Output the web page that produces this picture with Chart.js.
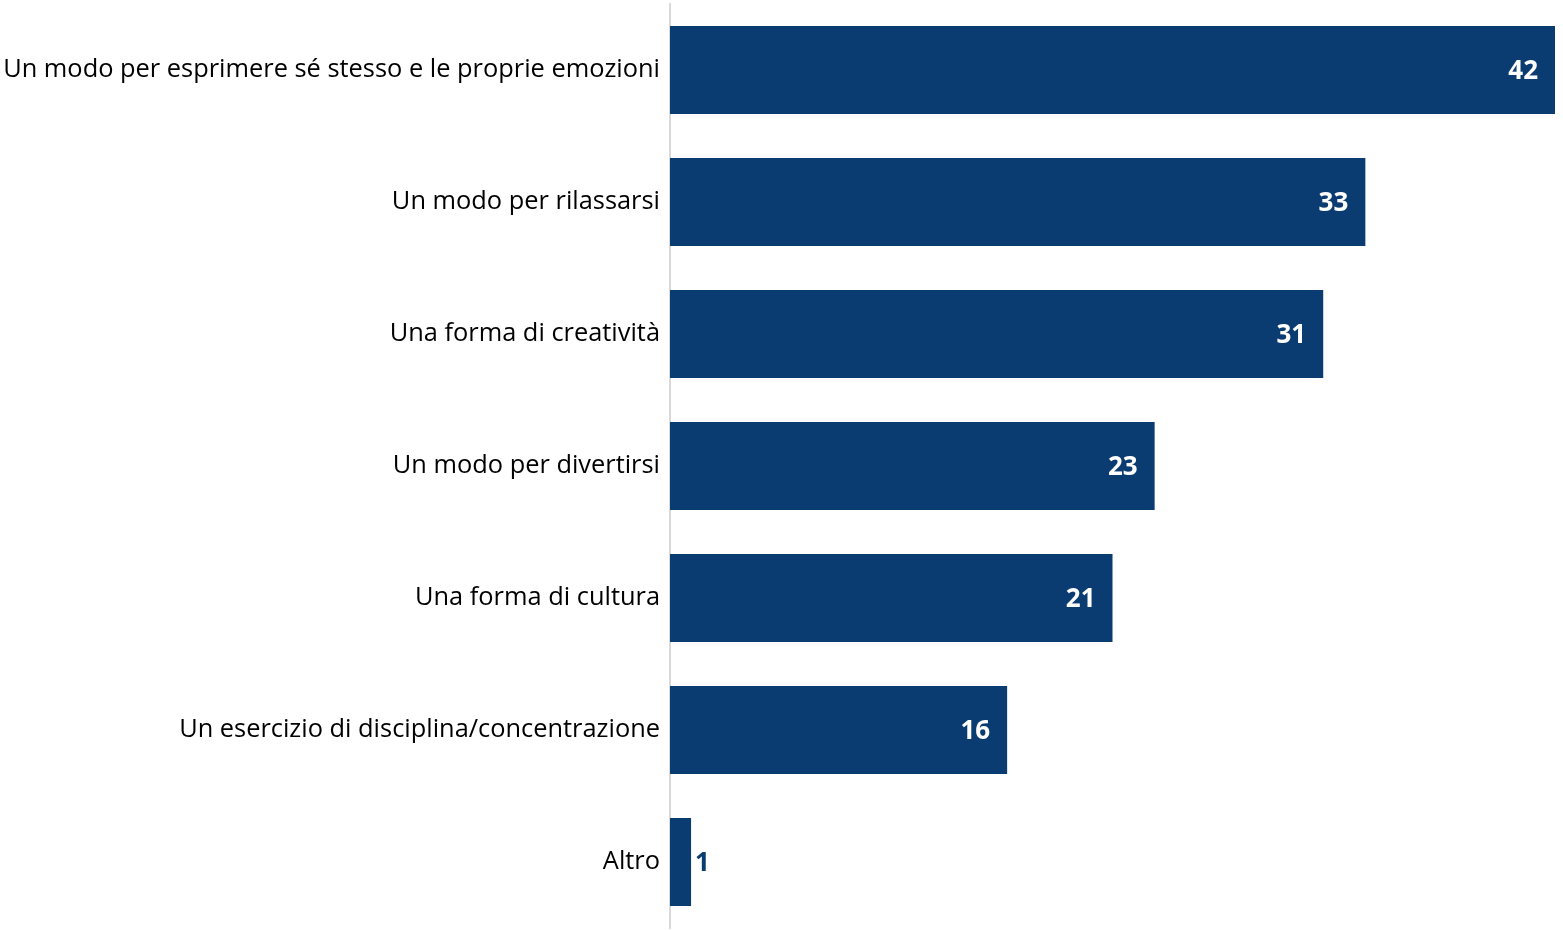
<!DOCTYPE html>
<html>
<head>
<meta charset="utf-8">
<script src="https://cdn.jsdelivr.net/npm/chart.js@4/dist/chart.umd.min.js"></script>
<style>
  body { margin: 0; background: #fff; }
  #wrap { width: 1563px; height: 930px; }
</style>
</head>
<body>
<div id="wrap"><canvas id="chart" width="1563" height="930"></canvas></div>
<script>
// Risposte (%)
const categories = [
  'Un modo per esprimere sé stesso e le proprie emozioni',
  'Un modo per rilassarsi',
  'Una forma di creatività',
  'Un modo per divertirsi',
  'Una forma di cultura',
  'Un esercizio di disciplina/concentrazione',
  'Altro'
];
const values = [42, 33, 31, 23, 21, 16, 1];

const navy = '#0b3c71';
const labelFont = '"Open Sans", "Noto Sans", sans-serif';

// value labels: white inside the bar end, navy outside when the bar is too short
const valueLabels = {
  id: 'valueLabels',
  afterDatasetsDraw(chart) {
    const ctx = chart.ctx;
    const meta = chart.getDatasetMeta(0);
    ctx.save();
    ctx.font = 'bold 26px ' + labelFont;
    ctx.textBaseline = 'middle';
    meta.data.forEach((bar, i) => {
      const txt = String(values[i]);
      const w = ctx.measureText(txt).width;
      const barW = bar.x - bar.base;
      if (barW > w + 30) {
        ctx.fillStyle = '#ffffff';
        ctx.textAlign = 'right';
        ctx.fillText(txt, bar.x - 17, bar.y + 2);
      } else {
        ctx.fillStyle = navy;
        ctx.textAlign = 'left';
        ctx.fillText(txt, bar.x + 4, bar.y + 2);
      }
    });
    ctx.restore();
  }
};

new Chart(document.getElementById('chart'), {
  type: 'bar',
  data: {
    labels: categories,
    datasets: [{
      data: values,
      backgroundColor: navy,
      borderWidth: 0,
      categoryPercentage: 1,
      barPercentage: 0.667
    }]
  },
  options: {
    indexAxis: 'y',
    responsive: false,
    animation: false,
    layout: { padding: { top: 4, bottom: 2, right: 8 } },
    plugins: {
      legend: { display: false },
      tooltip: { enabled: false }
    },
    scales: {
      x: {
        display: false,
        min: 0,
        max: 42
      },
      y: {
        grid: { display: false },
        border: { display: true, color: '#d9d9d9', width: 2 },
        ticks: {
          color: '#000000',
          font: { family: labelFont, size: 25.4 },
          padding: 2
        },
        afterFit(scale) {
          scale.width = 670;
          scale.paddingTop = 0;
          scale.paddingBottom = 0;
        }
      }
    }
  },
  plugins: [valueLabels]
});
</script>
</body>
</html>
